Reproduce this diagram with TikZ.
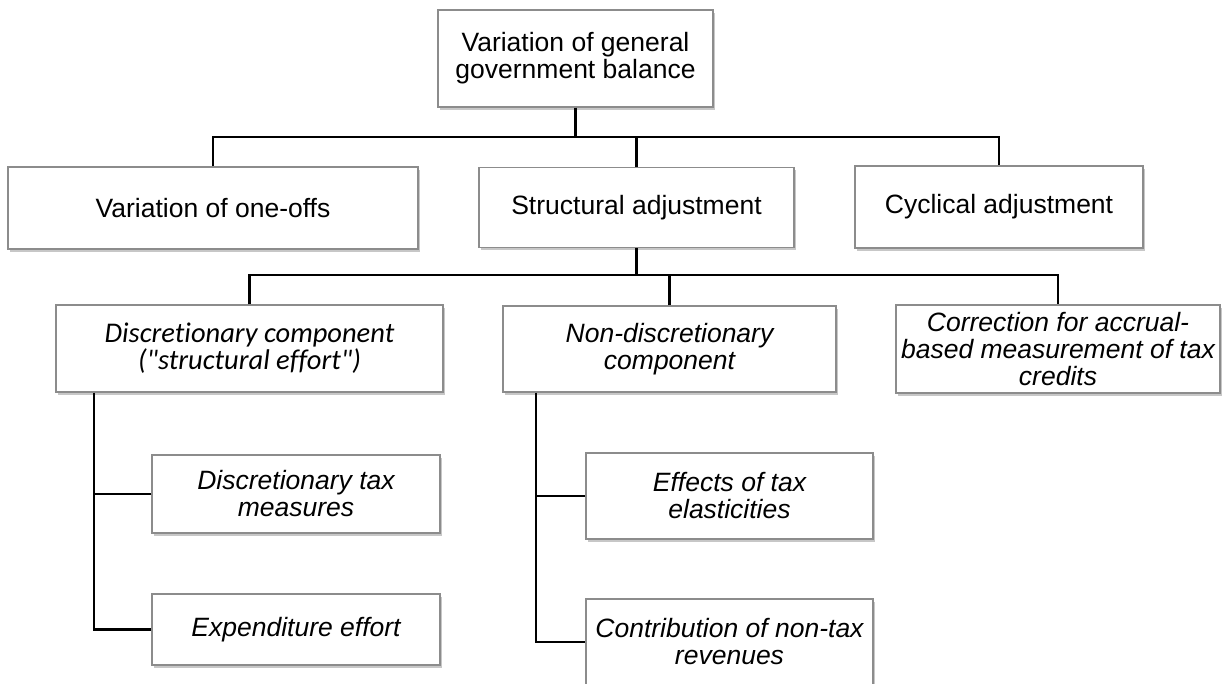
\documentclass[tikz,border=0pt]{standalone}
\usepackage{fontspec}
\setmainfont{Liberation Sans}
\newfontfamily\calibrifont[Ligatures=NoCommon]{Carlito}
\usetikzlibrary{shadows}
\begin{document}
\begin{tikzpicture}[x=1pt,y=-1pt,
  box/.style={draw=black!45, line width=1.1pt, fill=white, align=center,
    inner sep=0pt, font=\fontsize{26.5}{27}\selectfont,
    drop shadow={shadow xshift=2pt, shadow yshift=-3pt, fill=black, opacity=0.22}},
  ibox/.style={box, font=\fontsize{26.5}{27}\selectfont\itshape},
  cbox/.style={box, font=\fontsize{28.5}{27}\selectfont\calibrifont\itshape},
  conn/.style={draw=black, line width=2.2pt}]
\useasboundingbox (0,0) rectangle (1227,684);
\clip (0,0) rectangle (1227,684);

\node[box, minimum width=275pt, minimum height=97pt] (top) at (575.5,58.5)
  {Variation of general\\government balance};
\node[box, minimum width=410pt, minimum height=82pt] (oneoffs) at (213,208)
  {Variation of one-offs};
\node[box, minimum width=315pt, minimum height=80pt] (struct) at (636.5,207.5)
  {Structural adjustment};
\node[box, minimum width=288pt, minimum height=82pt] (cyc) at (999,207)
  {Cyclical adjustment};

\node[cbox, minimum width=387pt, minimum height=87pt] (disc) at (249.5,348.5)
  {Discretionary component\\("structural effort")};
\node[ibox, minimum width=333pt, minimum height=86pt] (nondisc) at (669.5,349)
  {Non-discretionary\\component};
\node[ibox, minimum width=324pt, minimum height=88pt] (corr) at (1058,349)
  {Correction for accrual-\\based measurement of tax\\credits};

\node[ibox, minimum width=288pt, minimum height=78pt] (dtax) at (296,494)
  {Discretionary tax\\measures};
\node[ibox, minimum width=288pt, minimum height=71pt] (exp) at (296,629.5)
  {Expenditure effort};
\node[ibox, minimum width=287pt, minimum height=86pt] (eff) at (729.5,496)
  {Effects of tax\\elasticities};
\node[ibox, minimum width=287pt, minimum height=86pt] (contrib) at (729.5,642)
  {Contribution of non-tax\\revenues};

\coordinate (b1) at (575,137);
\coordinate (b2) at (637,275);
\coordinate (v1) at (94,400);
\coordinate (v2) at (536,400);

\draw[conn] (top.south) -- (top.south |- b1);
\draw[conn] (oneoffs.north) |- (cyc.north |- b1) -- (cyc.north);
\draw[conn] (struct.north) -- (struct.north |- b1);

\draw[conn] (struct.south) -- (struct.south |- b2);
\draw[conn] (disc.north) |- (corr.north |- b2) -- (corr.north);
\draw[conn] (nondisc.north) -- (nondisc.north |- b2);

\draw[conn] (disc.south -| v1) |- (exp.west);
\draw[conn] (dtax.west) -- (dtax.west -| v1);
\draw[conn] (nondisc.south -| v2) |- (contrib.west);
\draw[conn] (eff.west) -- (eff.west -| v2);
\end{tikzpicture}
\end{document}
